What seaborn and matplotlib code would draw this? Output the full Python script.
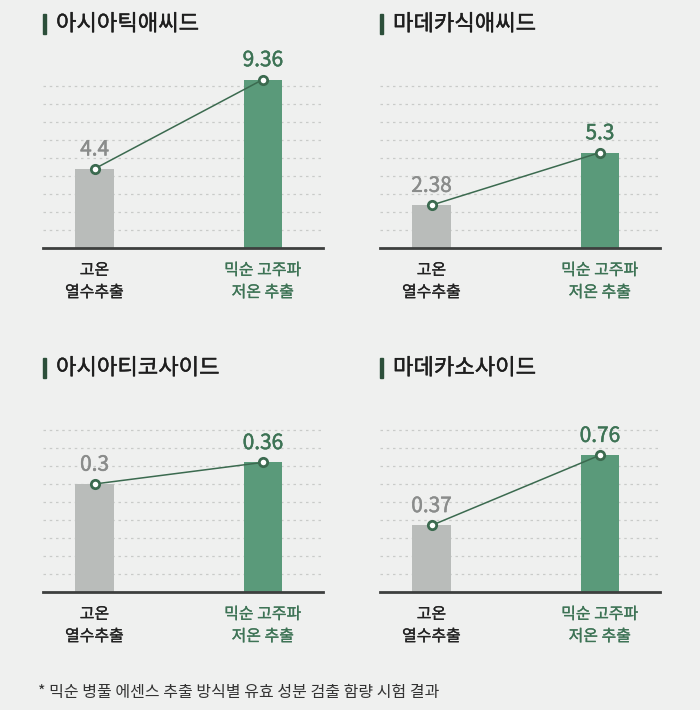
import numpy as np
import pandas as pd
import seaborn as sns
import matplotlib.pyplot as plt
import matplotlib.patheffects as pe
from matplotlib.patches import Rectangle

sns.set_style("white")
plt.rcParams['font.family'] = ['Noto Sans CJK KR', 'DejaVu Sans']

titles = ["아시아틱애씨드", "마데카식애씨드", "아시아티코사이드", "마데카소사이드"]
categories = ["고온\n열수추출", "믹순 고주파\n저온 추출"]
conventional = [4.4, 2.38, 0.3, 0.37]
mixsoon = [9.36, 5.3, 0.36, 0.76]
grid_steps = [1, 1, 0.05, 0.1]
footnote = "* 믹순 병풀 에센스 추출 방식별 유효 성분 검출 함량 시험 결과"

bg = "#eff0ef"
gray_bar = "#b9bcba"
green_bar = "#5a9a7a"
green_text = "#3d7355"
line_col = "#3b6a4f"


def heavier(color, w=0.3):
    # thicken the regular weight a little, the source uses a medium face
    return [pe.withStroke(linewidth=w, foreground=color)]


fig = plt.figure(figsize=(7, 7.1), dpi=100, facecolor=bg)

lefts = [43, 380, 43, 380]
tops = [68, 68, 412, 412]

for i in range(4):
    x0 = lefts[i] / 700
    y0 = 1 - (tops[i] + 180) / 710
    ax = fig.add_axes([x0, y0, 280 / 700, 180 / 710])
    ax.set_facecolor(bg)

    df = pd.DataFrame({"cat": categories, "value": [conventional[i], mixsoon[i]]})
    sns.barplot(data=df, x="cat", y="value", hue="cat", palette=[gray_bar, green_bar],
                width=0.23, saturation=1, linewidth=0, legend=False, ax=ax, zorder=2)
    df["pos"] = [0, 1]
    sns.lineplot(data=df, x="pos", y="value", color=line_col, linewidth=1.1,
                 marker="o", markersize=6, markerfacecolor="white",
                 markeredgecolor=line_col, markeredgewidth=2, ax=ax, zorder=4)

    step = grid_steps[i]
    for k in range(1, 10):
        ax.axhline(k * step, color="#c9cbc9", linewidth=0.9, linestyle=(0, (2, 3)), zorder=1)
    ax.set_ylim(0, step * 10)
    ax.set_xlim(-0.306, 1.357)

    for pos, v, c in zip([0, 1], df["value"], ["#8a8c8b", green_text]):
        ax.annotate(str(v), (pos, v), xytext=(0, 6), textcoords="offset points",
                    ha="center", va="bottom", fontsize=15, color=c, zorder=5,
                    path_effects=heavier(c, 0.35))

    for s in ["top", "right", "left"]:
        ax.spines[s].set_visible(False)
    ax.spines["bottom"].set_color("#3d3f3e")
    ax.spines["bottom"].set_linewidth(2)
    ax.set_yticks([])
    ax.set_xlabel("")
    ax.set_ylabel("")
    ax.set_xticks([0, 1])
    ax.set_xticklabels(categories, fontsize=11.5, linespacing=1.4)
    ax.tick_params(axis="x", length=0, pad=10)
    for lab, c in zip(ax.get_xticklabels(), ["#222222", green_text]):
        lab.set_color(c)
        lab.set_path_effects(heavier(c, 0.2))

    ty = 1 - (tops[i] - 44) / 710
    fig.text((lefts[i] + 13) / 700, ty, titles[i], fontsize=16, color="#1e1e1e",
             va="center", ha="left", path_effects=heavier("#1e1e1e", 0.3))
    fig.patches.append(Rectangle((lefts[i] / 700, ty - 10 / 710), 3 / 700, 20 / 710,
                                 transform=fig.transFigure, color="#2c4f3a"))

fig.text(38 / 700, 1 - 692 / 710, footnote, fontsize=11.5, color="#333333",
         va="center", ha="left")

fig.savefig("out.png", dpi=100, facecolor=bg)
